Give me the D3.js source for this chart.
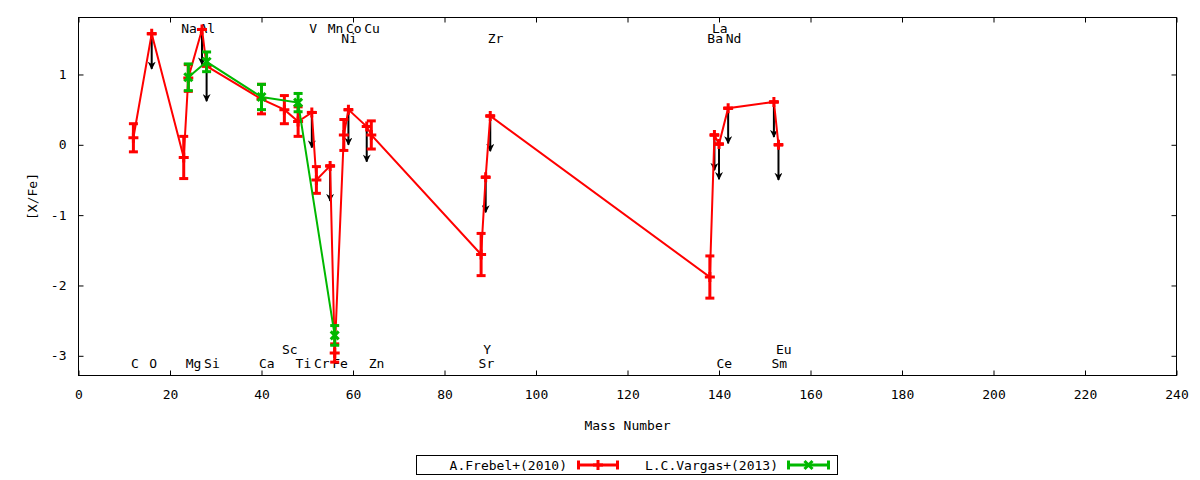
<!DOCTYPE html>
<html lang="en">
<head>
  <meta charset="UTF-8">
  <title>[X/Fe] vs Mass Number</title>
  <script src="https://d3js.org/d3.v7.min.js"></script>
  <style>
    body {
      margin: 0;
      background: #fff;
      font-family: "DejaVu Sans Mono", monospace;
    }
    svg text {
      font-family: "DejaVu Sans Mono", monospace;
      font-size: 13px;
      fill: #000;
    }
  </style>
</head>
<body>
  <div id="chart"></div>

  <script>
    // A.Frebel+(2010)
    const frebelElem  = ["C","O","Na","Mg","Al","Si","Ca","Sc","Ti","V","Cr","Mn","Fe","Ni","Co","Cu","Zn","Sr","Y","Zr","Ba","La","Ce","Nd","Sm","Eu"];
    const frebelMass  = [12, 16, 23, 24, 27, 28, 40, 45, 48, 51, 52, 55, 56, 58, 59, 63, 64, 88, 89, 90, 138, 139, 140, 142, 152, 153];
    const frebelValue = [0.10, 1.58, -0.18, 0.95, 1.64, 1.12, 0.65, 0.50, 0.33, 0.46, -0.50, -0.30, -2.96, 0.14, 0.50, 0.26, 0.14, -1.56, -0.46, 0.41, -1.88, 0.14, 0.01, 0.52, 0.61, 0.00];
    const frebelError = [0.20, 0, 0.30, 0.19, 0, 0, 0.21, 0.20, 0.21, 0, 0.19, 0, 0.13, 0.22, 0, 0, 0.20, 0.30, 0, 0, 0.30, 0, 0, 0, 0, 0];
    const frebelLimit = [0, 1, 0, 0, 1, 1, 0, 0, 0, 1, 0, 1, 0, 0, 1, 1, 0, 0, 1, 1, 0, 1, 1, 1, 1, 1];

    // L.C.Vargas+(2013)
    const vargasElem  = ["Mg","Si","Ca","Ti","Fe"];
    const vargasMass  = [24, 28, 40, 48, 56];
    const vargasValue = [0.96, 1.18, 0.68, 0.60, -2.71];
    const vargasError = [0.19, 0.14, 0.18, 0.13, 0.14];

    // element labels along the top and bottom of the frame
    const labelElem = ["Na","Al","V","Mn","Co","Cu","La","Ni","Zr","Ba","Nd",
                       "C","O","Mg","Si","Ca","Ti","Cr","Fe","Zn","Sr","Ce","Sm","Sc","Y","Eu"];
    const labelMass = [23, 27, 51, 55, 59, 63, 139, 58, 90, 138, 142,
                       12, 16, 24, 28, 40, 48, 52, 56, 64, 88, 140, 152, 45, 89, 153];
    const labelRow  = ["t1","t1","t1","t1","t1","t1","t1","t2","t2","t2","t2",
                       "b1","b1","b1","b1","b1","b1","b1","b1","b1","b1","b1","b1","b2","b2","b2"];

    const xTicks = d3.range(0, 241, 20);
    const yTicks = [-3, -2, -1, 0, 1];
    const limitLength = 0.5;

    const W = 1200, H = 480;
    const plot = {left: 78.5, right: 1176.5, top: 17.5, bottom: 375.5};

    const svg = d3.select("#chart").append("svg")
      .attr("width", W).attr("height", H);

    const x = d3.scaleLinear().domain([0, 240]).range([plot.left, plot.right]);
    const y = d3.scaleLinear().domain([-3.28, 1.81]).range([plot.bottom, plot.top]);

    const frebel = frebelMass.map((m, i) => ({
      el: frebelElem[i], mass: m, v: frebelValue[i], e: frebelError[i], lim: frebelLimit[i]
    }));
    const vargas = vargasMass.map((m, i) => ({
      el: vargasElem[i], mass: m, v: vargasValue[i], e: vargasError[i]
    }));

    // axes (ticks inside, mirrored like gnuplot)
    const tickLen = 5;
    const intFmt = d => String(d);
    svg.append("g").attr("transform", `translate(0,${plot.bottom})`)
      .call(d3.axisBottom(x).tickValues(xTicks).tickFormat(intFmt).tickSizeInner(-tickLen).tickSizeOuter(0).tickPadding(14))
      .call(g => g.select(".domain").remove());
    svg.append("g").attr("transform", `translate(0,${plot.top})`)
      .call(d3.axisTop(x).tickValues(xTicks).tickSizeInner(-tickLen).tickSizeOuter(0).tickFormat(""))
      .call(g => g.select(".domain").remove());
    svg.append("g").attr("transform", `translate(${plot.left},0)`)
      .call(d3.axisLeft(y).tickValues(yTicks).tickFormat(intFmt).tickSizeInner(-tickLen).tickSizeOuter(0).tickPadding(12))
      .call(g => g.select(".domain").remove());
    svg.append("g").attr("transform", `translate(${plot.right},0)`)
      .call(d3.axisRight(y).tickValues(yTicks).tickSizeInner(-tickLen).tickSizeOuter(0).tickFormat(""))
      .call(g => g.select(".domain").remove());
    svg.selectAll(".tick line").attr("stroke", "#000");
    svg.selectAll(".tick text").style("font-size", "13px").style("font-family", "DejaVu Sans Mono, monospace");

    svg.append("rect")
      .attr("x", plot.left).attr("y", plot.top)
      .attr("width", plot.right - plot.left).attr("height", plot.bottom - plot.top)
      .attr("fill", "none").attr("stroke", "#000").attr("stroke-width", 1);

    // axis titles
    svg.append("text")
      .attr("x", (plot.left + plot.right) / 2).attr("y", 425)
      .attr("text-anchor", "middle").attr("dominant-baseline", "central")
      .text("Mass Number");
    svg.append("text")
      .attr("transform", `translate(32,${(plot.top + plot.bottom) / 2}) rotate(-90)`)
      .attr("text-anchor", "middle").attr("dominant-baseline", "central")
      .text("[X/Fe]");

    // element labels
    const rowY = {t1: 28, t2: 38, b1: 363, b2: 349};
    svg.selectAll(".elabel")
      .data(labelElem.map((el, i) => ({el, mass: labelMass[i], row: labelRow[i]})))
      .enter().append("text")
      .attr("class", "elabel")
      .attr("x", d => x(d.mass) - 2.5)
      .attr("y", d => rowY[d.row])
      .attr("dominant-baseline", "central")
      .text(d => d.el);

    // upper-limit arrows
    svg.append("defs").append("marker")
      .attr("id", "head").attr("viewBox", "0 0 10 10")
      .attr("refX", 9).attr("refY", 5)
      .attr("markerWidth", 4).attr("markerHeight", 4)
      .attr("markerUnits", "strokeWidth").attr("orient", "auto")
      .append("path").attr("d", "M0,0 L10,5 L0,10 L3,5 Z").attr("fill", "#000");

    svg.selectAll(".limit")
      .data(frebel.filter(d => d.lim))
      .enter().append("line")
      .attr("class", "limit")
      .attr("x1", d => x(d.mass)).attr("x2", d => x(d.mass))
      .attr("y1", d => y(d.v)).attr("y2", d => y(d.v - limitLength))
      .attr("stroke", "#000").attr("stroke-width", 2)
      .attr("marker-end", "url(#head)");

    const line = d3.line().x(d => x(d.mass)).y(d => y(d.v));

    function drawSeries(data, color, marker) {
      const g = svg.append("g");
      g.append("path").datum(data)
        .attr("d", line).attr("fill", "none")
        .attr("stroke", color).attr("stroke-width", 2);

      const pts = g.selectAll(".pt").data(data).enter().append("g")
        .attr("transform", d => `translate(${x(d.mass)},0)`);
      // error bars
      pts.append("line")
        .attr("y1", d => y(d.v + d.e)).attr("y2", d => y(d.v - d.e))
        .attr("stroke", color).attr("stroke-width", 3);
      pts.append("line")
        .attr("x1", -4.5).attr("x2", 4.5)
        .attr("y1", d => y(d.v + d.e)).attr("y2", d => y(d.v + d.e))
        .attr("stroke", color).attr("stroke-width", 3);
      pts.append("line")
        .attr("x1", -4.5).attr("x2", 4.5)
        .attr("y1", d => y(d.v - d.e)).attr("y2", d => y(d.v - d.e))
        .attr("stroke", color).attr("stroke-width", 3);
      // point marker
      pts.append("path")
        .attr("transform", d => `translate(0,${y(d.v)})`)
        .attr("d", marker)
        .attr("stroke", color).attr("stroke-width", 3).attr("fill", "none");
    }

    const plusMark = "M-5,0H5M0,-5V5";
    const crossMark = "M-4,-4L4,4M-4,4L4,-4";

    drawSeries(frebel, "#ff0000", plusMark);
    drawSeries(vargas, "#00b800", crossMark);

    // legend
    const legend = svg.append("g");
    legend.append("rect")
      .attr("x", 416.5).attr("y", 455.5).attr("width", 421).attr("height", 19)
      .attr("fill", "#fff").attr("stroke", "#000");

    const legendItems = [
      {name: "A.Frebel+(2010)", color: "#ff0000", marker: plusMark, textEnd: 567, x0: 577, x1: 619},
      {name: "L.C.Vargas+(2013)", color: "#00b800", marker: crossMark, textEnd: 778, x0: 787, x1: 830}
    ];
    legendItems.forEach(it => {
      const ly = 465;
      legend.append("text")
        .attr("x", it.textEnd).attr("y", ly)
        .attr("text-anchor", "end").attr("dominant-baseline", "central")
        .text(it.name);
      legend.append("line")
        .attr("x1", it.x0).attr("x2", it.x1).attr("y1", ly).attr("y2", ly)
        .attr("stroke", it.color).attr("stroke-width", 3);
      [it.x0 + 1.5, it.x1 - 1.5].forEach(cx => {
        legend.append("line")
          .attr("x1", cx).attr("x2", cx).attr("y1", ly - 4.5).attr("y2", ly + 4.5)
          .attr("stroke", it.color).attr("stroke-width", 3);
      });
      legend.append("path")
        .attr("transform", `translate(${(it.x0 + it.x1) / 2},${ly})`)
        .attr("d", it.marker)
        .attr("stroke", it.color).attr("stroke-width", 3).attr("fill", "none");
    });
  </script>
</body>
</html>
